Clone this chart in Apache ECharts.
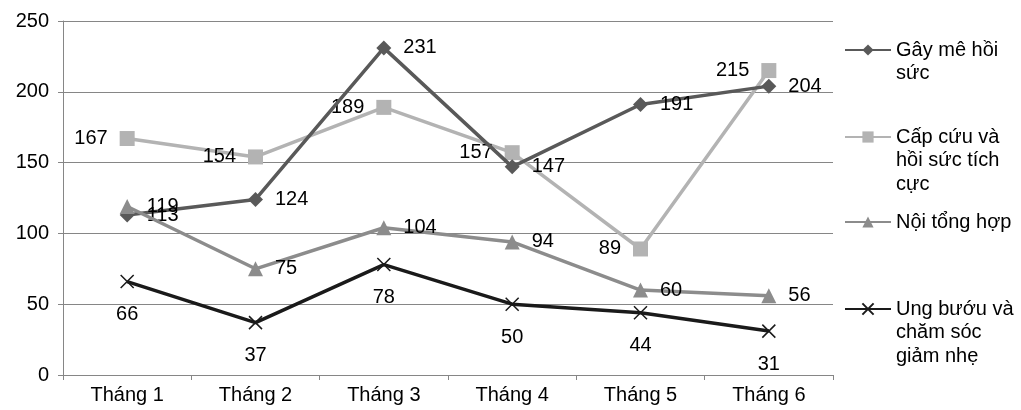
<!DOCTYPE html>
<html><head><meta charset="utf-8">
<script src="https://cdn.jsdelivr.net/npm/echarts@6/dist/echarts.min.js"></script>
<style>html,body{margin:0;padding:0;background:#fff}#c{width:1021px;height:410px}</style>
</head><body><div id="c"></div>
<script>
var categories = ['Tháng 1','Tháng 2','Tháng 3','Tháng 4','Tháng 5','Tháng 6'];
var gayMe = [113,124,231,147,191,204];
var capCuu = [167,154,189,157,89,215];
var noiTH = [119,75,104,94,60,56];
var ungBuou = [66,37,78,50,44,31];
var seriesNames = ['Gây mê hồi sức','Cấp cứu và hồi sức tích cực','Nội tổng hợp','Ung bướu và chăm sóc giảm nhẹ'];
var legendLabels = ['Gây mê hồi\nsức','Cấp cứu và\nhồi sức tích\ncực','Nội tổng hợp','Ung bướu và\nchăm sóc\ngiảm nhẹ'];

var font = 'Liberation Sans, Arial, sans-serif';
var FS = 20;
var LH = 23.5;
var chart = echarts.init(document.getElementById('c'));
var lbl = function(pos, dist){return {show:true, position:pos, distance:dist, color:'#000', fontSize:FS, fontFamily:font};};
var iconY = [48, 135, 220, 307];
var legends = seriesNames.map(function(n,i){
  var lines = legendLabels[i].split('\n');
  var k = lines.length;
  var pre = [];
  for (var j = 0; j < k-1; j++) pre.push(' ');
  var txt = pre.concat(lines).join('\n');
  var boxH = (2*k-1)*LH;
  return {data:[n], left:844, top:iconY[i]-boxH/2+2, orient:'vertical', itemWidth:46, itemHeight:14, itemGap:0, padding:0,
    formatter:function(){return txt;},
    textStyle:{fontSize:FS, fontFamily:font, color:'#000', lineHeight:LH}};
});
chart.setOption({
  animation:false,
  backgroundColor:'#fff',
  grid:{left:63, right:188, top:21, bottom:35},
  legend:legends,
  xAxis:{type:'category', data:categories, boundaryGap:true,
    axisLine:{lineStyle:{color:'#868686', width:1}},
    axisTick:{show:true, length:5, lineStyle:{color:'#868686'}},
    axisLabel:{color:'#000', fontSize:FS, fontFamily:font, margin:10}},
  yAxis:{type:'value', min:0, max:250, interval:50,
    axisLine:{show:true, lineStyle:{color:'#868686'}},
    axisTick:{show:true, length:5, lineStyle:{color:'#868686'}},
    splitLine:{lineStyle:{color:'#868686', width:1}},
    axisLabel:{color:'#000', fontSize:FS, fontFamily:font, margin:14}},
  series:[
    {name:seriesNames[0], type:'line', data:gayMe, symbol:'diamond', symbolSize:15,
      lineStyle:{color:'#595959', width:3.5}, itemStyle:{color:'#595959'}, label:lbl('right',12), z:3},
    {name:seriesNames[1], type:'line', data:capCuu, symbol:'rect', symbolSize:15,
      lineStyle:{color:'#b3b3b3', width:3.5}, itemStyle:{color:'#b3b3b3'}, label:lbl('left',12), z:2},
    {name:seriesNames[2], type:'line', data:noiTH, symbol:'triangle', symbolSize:15,
      lineStyle:{color:'#8c8c8c', width:3.5}, itemStyle:{color:'#8c8c8c'}, label:lbl('right',12), z:4},
    {name:seriesNames[3], type:'line', data:ungBuou, symbol:'path://M0,0L10,10M10,0L0,10', symbolSize:13,
      lineStyle:{color:'#1a1a1a', width:3.5}, itemStyle:{color:'none', borderColor:'#1a1a1a', borderWidth:1.5}, label:lbl('bottom',14), z:5}
  ]
});
</script></body></html>
